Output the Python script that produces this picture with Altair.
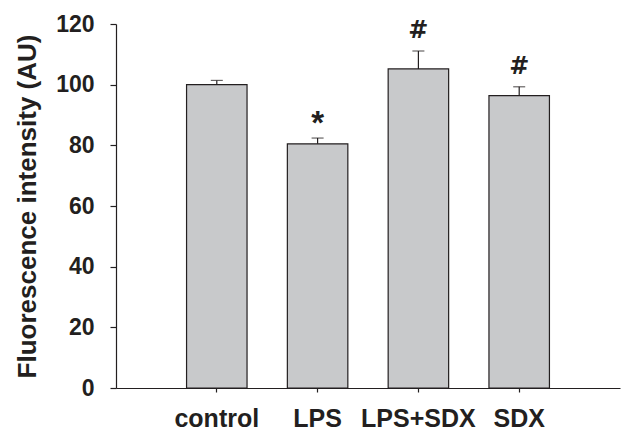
import altair as alt
import pandas as pd

# Group means, upper SEM and significance marks
groups = ["control", "LPS", "LPS+SDX", "SDX"]
means = [100.0, 80.5, 105.2, 96.4]
sems = [1.4, 1.9, 5.9, 2.9]
marks = ["", "*", "#", "#"]

df = pd.DataFrame({"group": groups, "mean": means, "sem": sems, "mark": marks})
df["upper"] = df["mean"] + df["sem"]

FONT = "Liberation Sans"
INK = "#231f20"

x_enc = alt.X(
    "group:N",
    sort=groups,
    scale=alt.Scale(paddingInner=0.4, paddingOuter=0.7),
    axis=alt.Axis(
        title=None, labelAngle=0, labelFont=FONT, labelFontSize=25,
        labelFontWeight="bold", labelColor=INK, labelPadding=14,
        tickSize=4, tickColor=INK, domainColor=INK, domainWidth=1.2,
        tickWidth=1.2,
    ),
)
y_scale = alt.Scale(domain=[0, 120], nice=False)
y_axis = alt.Axis(
    title="Fluorescence intensity (AU)", values=[0, 20, 40, 60, 80, 100, 120],
    grid=False, labelFont=FONT, labelFontSize=23, labelFontWeight="bold",
    labelColor=INK, labelPadding=16, tickSize=6, tickColor=INK, tickWidth=1.2,
    domainColor=INK, domainWidth=1.2, titleFont=FONT, titleFontSize=26,
    titleFontWeight="bold", titleColor=INK, titlePadding=15,
)

base = alt.Chart(df).encode(x=x_enc)

bars = base.mark_bar(fill="#c8c9cb", stroke=INK, strokeWidth=1.2).encode(
    y=alt.Y("mean:Q", scale=y_scale, axis=y_axis)
)
err = base.mark_rule(color=INK, strokeWidth=1.2).encode(
    y=alt.Y("mean:Q"), y2="upper:Q"
)
caps = base.mark_tick(color=INK, size=12, thickness=1.2).encode(y="upper:Q")

hashes = base.transform_filter(alt.datum.mark == "#").mark_text(
    font="DejaVu Sans", fontSize=24, fontWeight="bold", color=INK,
    baseline="alphabetic", dy=-13,
).encode(y="upper:Q", text="mark:N")
stars = base.transform_filter(alt.datum.mark == "*").mark_text(
    font=FONT, fontSize=33, fontWeight="bold", color=INK,
    baseline="alphabetic", dy=-4,
).encode(y="upper:Q", text="mark:N")

chart = (
    alt.layer(bars, err, caps, hashes, stars)
    .properties(
        width=504, height=364,
        autosize=alt.AutoSizeParams(type="none"),
        padding={"left": 116, "top": 24, "right": 4, "bottom": 43},
    )
    .configure_view(stroke=None)
)

chart.save("out.html", embed_options={"renderer": "svg", "actions": False})
